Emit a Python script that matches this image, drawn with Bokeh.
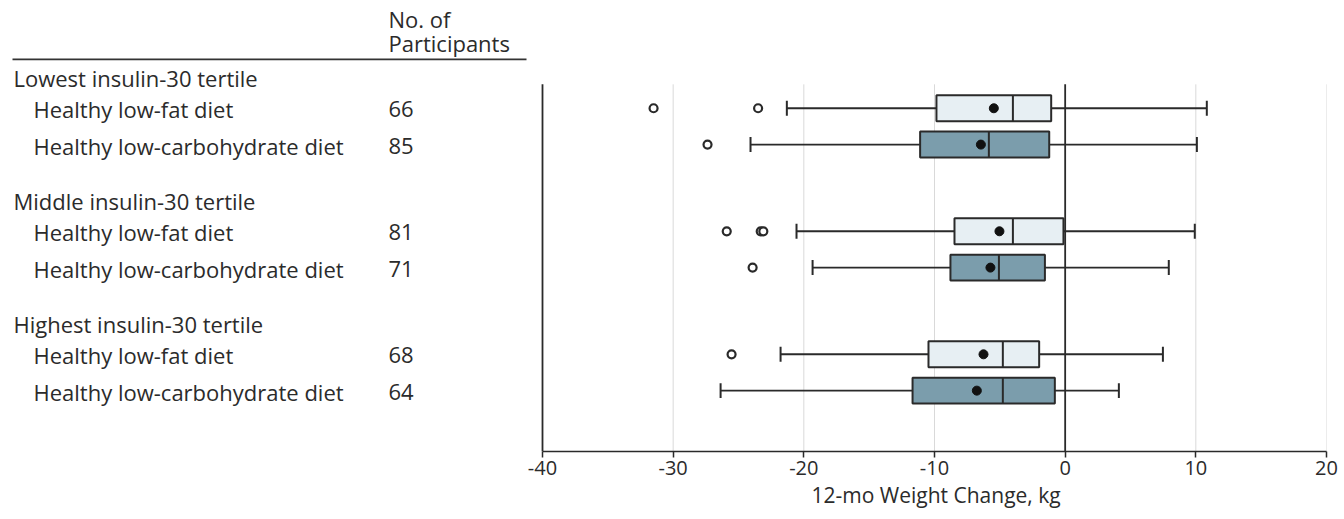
from bokeh.plotting import figure
from bokeh.models import Range1d, FixedTicker, ColumnDataSource, Title, PrintfTickFormatter
from bokeh.core.properties import value
from bokeh.embed import file_html
from bokeh.resources import INLINE

# ---- data ----
groups = ["Lowest insulin-30 tertile", "Middle insulin-30 tertile", "Highest insulin-30 tertile"]
diets = ["Healthy low-fat diet", "Healthy low-carbohydrate diet"]
n_participants = [66, 85, 81, 71, 68, 64]
q1 = [-9.85, -11.1, -8.47, -8.78, -10.46, -11.68]
median = [-4.0, -5.84, -4.0, -5.07, -4.77, -4.77]
q3 = [-1.07, -1.22, -0.13, -1.55, -1.99, -0.79]
mean = [-5.46, -6.45, -5.03, -5.72, -6.25, -6.76]
whisker_low = [-21.3, -24.08, -20.56, -19.33, -21.78, -26.37]
whisker_high = [10.84, 10.08, 9.92, 7.93, 7.48, 4.11]
outliers = [[-31.5, -23.5], [-27.37], [-25.9, -23.3, -23.1], [-23.92], [-25.53], []]
x_ticks = [-40, -30, -20, -10, 0, 10, 20]
x_label = "12-mo Weight Change, kg"
count_header = ["No. of", "Participants"]

# ---- layout constants (page pixels) ----
FONT = "Open Sans"
TXT = "#2b2b2b"
LC = "#2a2a2a"
FIRST_ROW = 109.0
ROW_STEP = 36.4
GROUP_STEP = 123.3
HEADER_OFFSET = -31.0
TEXT_DY = 1.0
ORIGIN_X, ORIGIN_Y = 1, 1          # observed page origin of the canvas
W, H = 1339, 510
AXIS_LEFT_PX, FRAME_RIGHT_PX = 543, 1327
PLOT_TOP, AXIS_Y = 85, 453
fill_colors = ["#e7eff3", "#7b9dac"]

scale = (FRAME_RIGHT_PX - AXIS_LEFT_PX) / (x_ticks[-1] - x_ticks[0])


def px_to_x(px):
    return x_ticks[0] + (px - AXIS_LEFT_PX) / scale


row_y, row_diet, row_fill = [], [], []
for g in range(len(groups)):
    for d in range(len(diets)):
        row_y.append(FIRST_ROW + g * GROUP_STEP + d * ROW_STEP)
        row_diet.append(diets[d])
        row_fill.append(fill_colors[d])
header_y = [FIRST_ROW + g * GROUP_STEP + HEADER_OFFSET for g in range(len(groups))]

p = figure(width=W, height=H,
           x_range=Range1d(px_to_x(ORIGIN_X), x_ticks[-1]),
           y_range=Range1d(AXIS_Y, ORIGIN_Y),
           output_backend="svg", toolbar_location=None,
           min_border_left=0, min_border_top=0,
           min_border_right=ORIGIN_X + W - FRAME_RIGHT_PX,
           min_border_bottom=ORIGIN_Y + H - AXIS_Y)
p.outline_line_color = None
p.yaxis.visible = False
p.grid.visible = False

# x axis
p.xaxis.bounds = (x_ticks[0], x_ticks[-1])
p.xaxis.ticker = FixedTicker(ticks=x_ticks)
p.xaxis.formatter = PrintfTickFormatter(format="%d")
p.xaxis.minor_tick_line_color = None
p.xaxis.major_tick_in = 0
p.xaxis.major_tick_out = 6
p.xaxis.major_tick_line_color = LC
p.xaxis.major_tick_line_width = 1.5
p.xaxis.axis_line_color = LC
p.xaxis.axis_line_width = 1.6
p.xaxis.major_label_text_font = FONT
p.xaxis.major_label_text_font_size = "20px"
p.xaxis.major_label_text_color = TXT
p.xaxis.major_label_standoff = 3

# axis title, centred under the axis
title_w = 246
p.add_layout(Title(text=x_label, align="left",
                   offset=(AXIS_LEFT_PX + FRAME_RIGHT_PX) / 2 - title_w / 2 - ORIGIN_X,
                   text_font=FONT, text_font_size="21px", text_font_style="normal",
                   text_color=TXT, standoff=3), "below")

# grid lines and reference lines
grid_x = [t for t in x_ticks if t not in (x_ticks[0], 0)]
p.segment(x0=grid_x, y0=[PLOT_TOP] * len(grid_x), x1=grid_x, y1=[AXIS_Y] * len(grid_x),
          line_color="#d9d9d9", line_width=1)
p.segment(x0=[x_ticks[0], 0], y0=[PLOT_TOP] * 2, x1=[x_ticks[0], 0], y1=[AXIS_Y] * 2,
          line_color=LC, line_width=1.8)

# left table
tx = dict(text_font=value(FONT), text_font_size="22px", text_color=TXT,
          text_baseline="middle", text_align="left")
p.text(x=[px_to_x(389)] * 2, y=[20, 44], text=count_header, **tx)
p.segment(x0=[px_to_x(13)], y0=[60], x1=[px_to_x(527)], y1=[60], line_color="#333333", line_width=1.6)
p.text(x=[px_to_x(14)] * len(groups), y=[y + TEXT_DY for y in header_y], text=groups, **tx)
p.text(x=[px_to_x(34)] * len(row_y), y=[y + TEXT_DY for y in row_y], text=row_diet, **tx)
p.text(x=[px_to_x(389)] * len(row_y), y=[y + TEXT_DY for y in row_y],
       text=[str(v) for v in n_participants], **tx)

# box plots
src = ColumnDataSource(dict(y=row_y, q1=q1, q3=q3, med=median, mean=mean,
                            lo=whisker_low, hi=whisker_high, fill=row_fill))
BOX_H = 26
CAP_H = 15
src.data["cap_top"] = [y - CAP_H / 2 for y in row_y]
src.data["cap_bot"] = [y + CAP_H / 2 for y in row_y]
src.data["box_top"] = [y - BOX_H / 2 for y in row_y]
src.data["box_bot"] = [y + BOX_H / 2 for y in row_y]

p.segment(x0="lo", y0="y", x1="q1", y1="y", source=src, line_color=LC, line_width=1.9)
p.segment(x0="q3", y0="y", x1="hi", y1="y", source=src, line_color=LC, line_width=1.9)
p.segment(x0="lo", y0="cap_top", x1="lo", y1="cap_bot", source=src, line_color=LC, line_width=2)
p.segment(x0="hi", y0="cap_top", x1="hi", y1="cap_bot", source=src, line_color=LC, line_width=2)
p.hbar(y="y", left="q1", right="q3", height=BOX_H, source=src, fill_color="fill",
       line_color=LC, line_width=2)
p.segment(x0="med", y0="box_top", x1="med", y1="box_bot", source=src, line_color=LC, line_width=2)
p.scatter(x="mean", y="y", source=src, size=9, fill_color="#111111", line_color="#111111")

ox, oy = [], []
for i, vals in enumerate(outliers):
    for v in vals:
        ox.append(v)
        oy.append(row_y[i])
p.scatter(x=ox, y=oy, size=8, fill_color="white", line_color=LC, line_width=2.2)

open("out.html", "w").write(file_html(p, INLINE))
